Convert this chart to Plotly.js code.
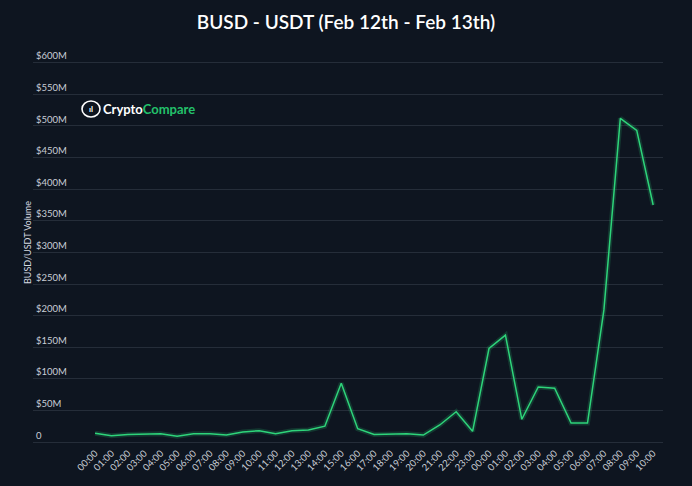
<!DOCTYPE html>
<html>
<head>
<meta charset="utf-8">
<script src="https://cdn.plot.ly/plotly-3.0.1.min.js"></script>
<style>
html,body{margin:0;padding:0;background:#0e1520;}
#chart{width:692px;height:486px;}
</style>
</head>
<body>
<div id="chart"></div>
<script>
// Hour labels (Feb 12 00:00 -> Feb 13 10:00)
const hourLabels = [
  "00:00","01:00","02:00","03:00","04:00","05:00","06:00","07:00","08:00","09:00",
  "10:00","11:00","12:00","13:00","14:00","15:00","16:00","17:00","18:00","19:00",
  "20:00","21:00","22:00","23:00",
  "00:00","01:00","02:00","03:00","04:00","05:00","06:00","07:00","08:00","09:00","10:00"
];
// BUSD/USDT volume, millions of USD
const volumeM = [
  14, 10, 12, 12, 13, 9, 13, 13, 11, 16,
  18, 13, 18, 19, 25, 93, 21, 12, 13, 13,
  11, 27, 48, 17,
  148, 169, 36, 87, 85, 30, 30, 209, 512, 493, 375
];
const yTickVals = [0, 50, 100, 150, 200, 250, 300, 350, 400, 450, 500, 550, 600];
const yTickText = ["0","$50M","$100M","$150M","$200M","$250M","$300M","$350M","$400M","$450M","$500M","$550M","$600M"];

const xIdx = hourLabels.map((_, i) => i);
const green = '#2ed47a';

const traces = [
  {x: xIdx, y: volumeM, type: 'scatter', mode: 'lines',
   line: {color: 'rgba(46,212,122,0.18)', width: 5}, hoverinfo: 'skip', showlegend: false},
  {x: xIdx, y: volumeM, type: 'scatter', mode: 'lines',
   line: {color: green, width: 1.5}, showlegend: false}
];

const font = "Lato, 'Open Sans', sans-serif";
// plot area: x 33..663, y 40..445
const PT = 40, PB = 445, PL = 33, PR = 663;
const layout = {
  width: 692, height: 486,
  paper_bgcolor: '#0e1520', plot_bgcolor: '#0e1520',
  margin: {l: PL, r: 692 - PR, t: PT, b: 486 - PB},
  font: {family: font, color: '#c9ced6', size: 9},
  title: {text: 'BUSD - USDT (Feb 12th - Feb 13th)', x: 0.5, xanchor: 'center', y: 0.955, yanchor: 'middle',
          font: {family: font, size: 19, color: '#ffffff', weight: 600}},
  xaxis: {
    range: [-3.78, 34.6], tickvals: xIdx, ticktext: hourLabels, tickangle: -45,
    showgrid: false, zeroline: false, showline: false, ticks: '', fixedrange: true,
    tickfont: {size: 9.5, color: '#c9ced6'}
  },
  yaxis: {
    range: [-4.7, 636], tickvals: yTickVals, ticktext: yTickText,
    ticklabelposition: 'inside top', gridcolor: '#252d39', gridwidth: 1,
    zeroline: false, showline: false, ticks: '',
    tickfont: {size: 9.5, color: '#c9ced6'},
    title: {text: 'BUSD/USDT Volume', standoff: 2, font: {size: 9, color: '#d6dae0'}}
  },
  shapes: [
    {type: 'circle', xref: 'paper', yref: 'paper',
     x0: (82-PL)/(PR-PL), x1: (100-PL)/(PR-PL), y0: (PB-117)/(PB-PT), y1: (PB-101)/(PB-PT),
     line: {color: '#ffffff', width: 1.6}, fillcolor: 'rgba(0,0,0,0)'}
  ],
  annotations: [
    {xref: 'paper', yref: 'paper', x: (91-PL)/(PR-PL), y: (PB-109)/(PB-PT), xanchor: 'center', yanchor: 'middle',
     text: '<b>ıl</b>', showarrow: false, font: {size: 8, color: '#ffffff', family: font}},
    {xref: 'paper', yref: 'paper', x: (101-PL)/(PR-PL), y: (PB-109)/(PB-PT), xanchor: 'left', yanchor: 'middle',
     text: '<b>Crypto</b><b><span style="color:#23c16b">Compare</span></b>', showarrow: false,
     font: {size: 13, color: '#ffffff', family: font}}
  ]
};

Plotly.newPlot('chart', traces, layout, {displayModeBar: false, staticPlot: true});
</script>
</body>
</html>
